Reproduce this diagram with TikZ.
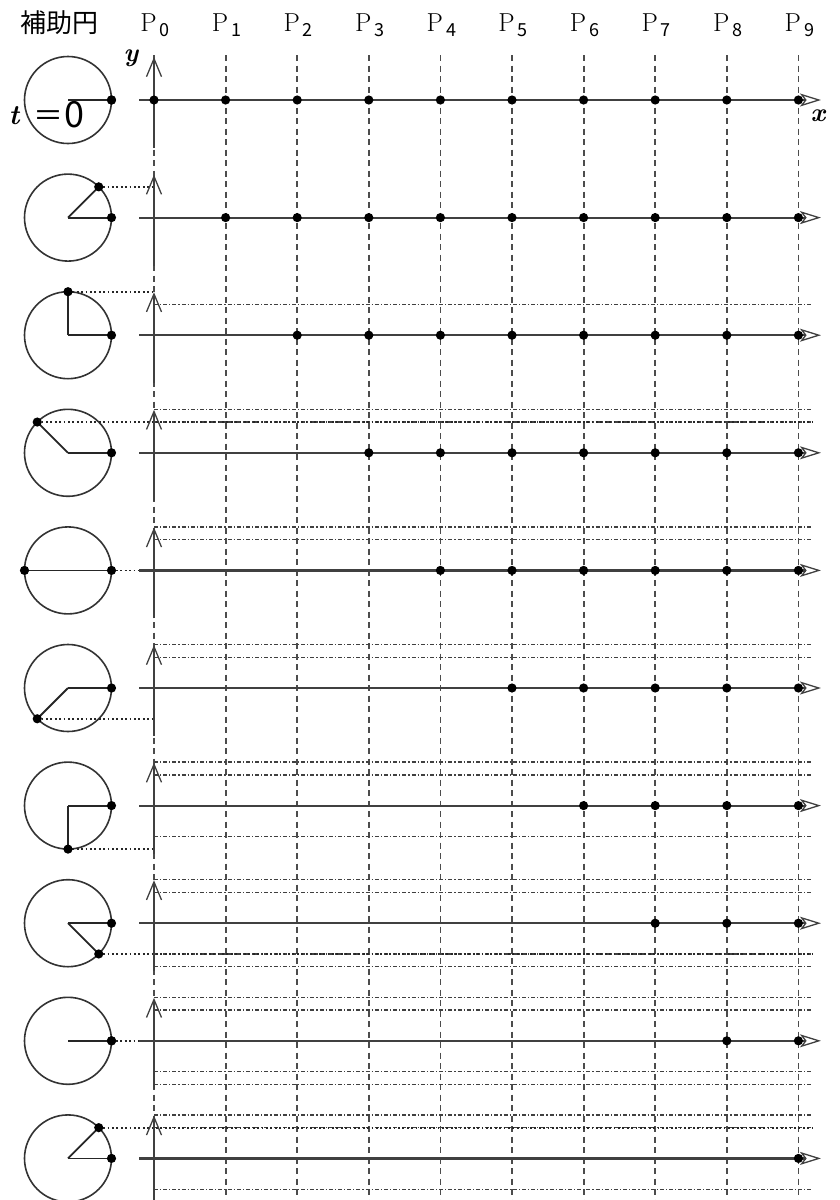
\documentclass[tikz,border=0pt]{standalone}
\usepackage{fontspec}
\newfontfamily\cjk{Noto Sans CJK JP}
\usetikzlibrary{arrows.meta}
\newcommand{\subdig}[1]{\raisebox{-5pt}{\cjk\fontsize{18}{18}\selectfont\,#1}}
\begin{document}
\begin{tikzpicture}[x=1pt,y=-1pt,
  vgrid/.style={line width=1.8pt, black!70, dash pattern=on 6pt off 4.5pt},
  ddot/.style={line width=1.3pt, black!75, dash pattern=on 4pt off 2pt on 1.2pt off 2pt},
  dotl/.style={line width=1.8pt, black!85, dash pattern=on 1.8pt off 2.6pt},
  axisv/.style={line width=2pt, black!75, -{Straight Barb[length=18pt,width=15pt,line width=1.3pt]}},
  axish/.style={line width=2.2pt, black!75, -{Stealth[open,length=21pt,width=13pt,inset=5pt,line width=1.3pt]}},
  circ/.style={line width=1.6pt, black!80},
  rad/.style={line width=1.8pt, black!85},
  lab/.style={inner sep=0pt, font=\fontsize{26}{26}\selectfont}
]
\useasboundingbox (0,0) rectangle (839,1200);
\clip (0,0) rectangle (839,1200);

% vertical dashed grid
\foreach \k in {0,...,9}
  \draw[vgrid] ({154+71.6*\k},55) -- ({154+71.6*\k},1200);

% dash-dot reference levels (row/level)
\foreach \t/\l in {2/0.7071, 3/1, 3/0.7071, 4/1, 4/0.7071, 5/1, 5/0.7071,
                   6/1, 6/0.7071, 6/-0.7071,
                   7/1, 7/0.7071, 7/-0.7071, 7/-1,
                   8/1, 8/0.7071, 8/-0.7071, 8/-1,
                   9/1, 9/0.7071, 9/-0.7071, 9/-1}
  \draw[ddot] (154,{100+117.6*\t-43.5*\l}) -- (813,{100+117.6*\t-43.5*\l});

% rows
\foreach \t/\mode in {0/0,1/1,2/1,3/2,4/3,5/1,6/1,7/2,8/3,9/2}{
  \pgfmathsetmacro\Y{100+117.6*\t}
  \pgfmathsetmacro\px{68+43.5*cos(45*\t)}
  \pgfmathsetmacro\py{\Y-43.5*sin(45*\t)}
  \coordinate (c\t) at (68,\Y);
  \coordinate (r\t) at (111.5,\Y);
  \coordinate (p\t) at (\px,\py);
  \draw[circ] (c\t) circle[radius=43.5pt];
  \draw[rad] (c\t) -- (r\t);
  \draw[rad] (c\t) -- (p\t);
  \ifcase\mode
  \or \draw[dotl] (p\t) -- (154,\py);
  \or \draw[dotl] (p\t) -- (813,\py);
  \or \draw[dotl] (r\t) -- (139,\Y);
  \fi
  \fill (r\t) circle[radius=4.6pt];
  \fill (p\t) circle[radius=4.6pt];
  \draw[axisv] (154,{\Y+48}) -- (154,{\Y-43});
  \draw[axish] (139,\Y) -- (821,\Y);
  \foreach \k in {\t,...,9}
    \fill ({154+71.6*\k},\Y) circle[radius=4.6pt];
}

% labels
\node[lab, font=\cjk\fontsize{26}{26}\selectfont] (hd) at (59,23) {補助円};
\foreach \k in {0,...,9}
  \node[lab] (P\k) at ({155+71.6*\k},25) {P\subdig{\k}};
\node[lab, font=\fontsize{26}{26}\selectfont\bfseries\itshape] (ylab) at (131,58) {y};
\node[lab, font=\fontsize{26}{26}\selectfont\bfseries\itshape] (xlab) at (818,116) {x};
\node[lab, font=\fontsize{28}{28}\selectfont\bfseries\itshape] (tt) at (14,116) {t};
\node[lab, font=\cjk\fontsize{30}{30}\selectfont] (teq) at (49,119) {＝};
\node[lab, font=\cjk\fontsize{36}{36}\selectfont] (t0) at (74,115) {0};
\end{tikzpicture}
\end{document}
